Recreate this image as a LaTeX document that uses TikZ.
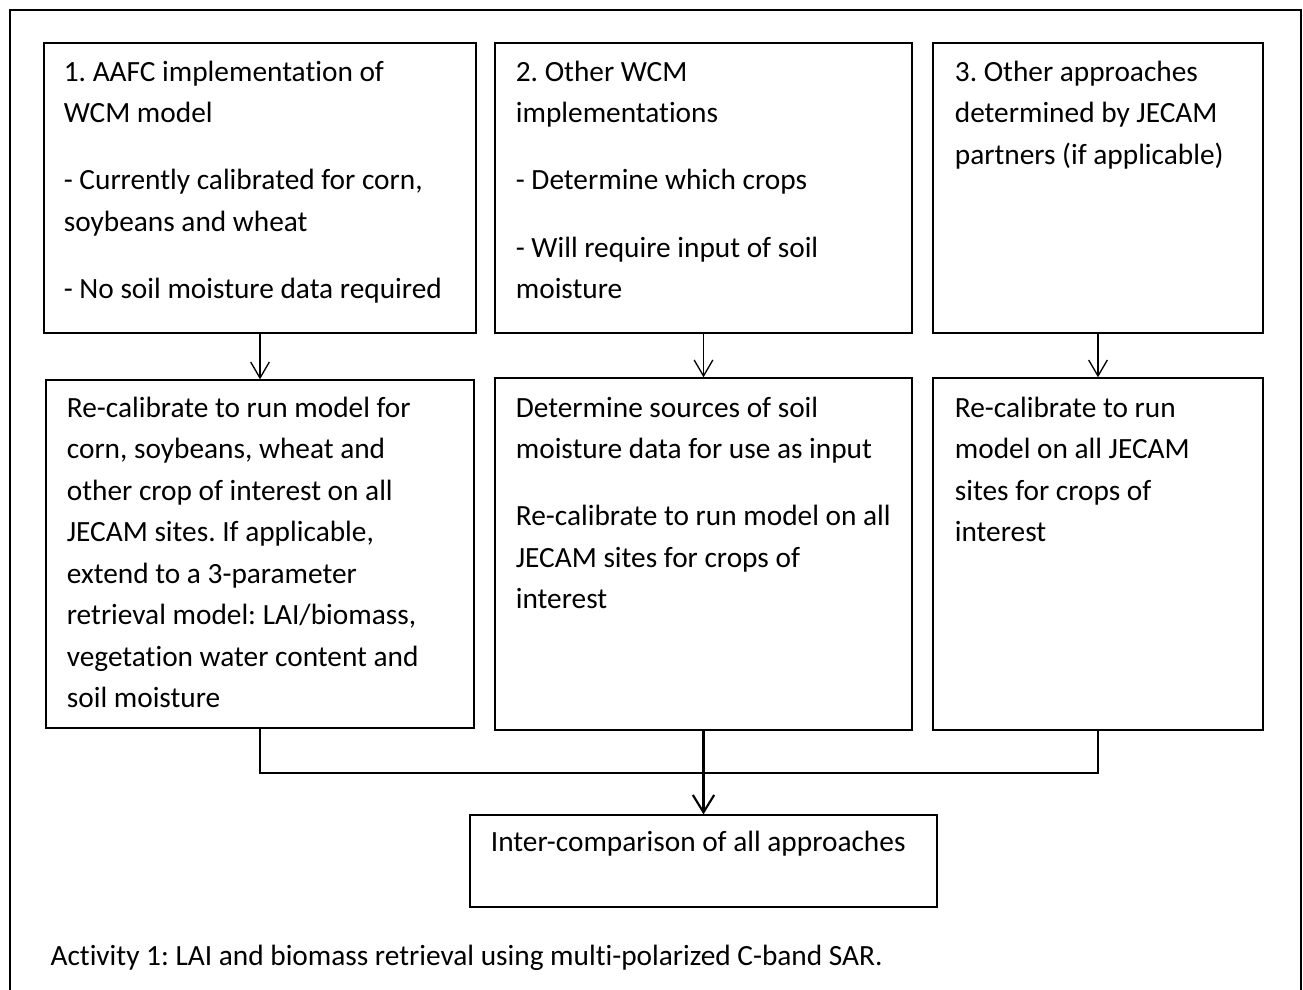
\documentclass[tikz,border=0pt]{standalone}
\usepackage{fontspec}
\setmainfont{Carlito}[Ligatures=NoCommon]
\usetikzlibrary{arrows.meta,positioning,fit,calc}
\newcommand{\boxlines}[1]{\parbox[t]{12cm}{#1}}
\frenchspacing
\tikzset{
  stage/.style={draw,line width=0.5pt,inner sep=0pt},
  stagetext/.style={anchor=base west,inner sep=0pt,font=\fontsize{11pt}{15.56pt}\selectfont},
  frame/.style={line width=1.1pt},
}

\begin{document}
\begin{tikzpicture}[x=0.375pt,y=-0.375pt,>={Straight Barb[length=6pt,width=7pt]}]
  \useasboundingbox (0,0) rectangle (1303,990);
  \draw[frame] (10,1000) |- (1301,10) -- (1301,1000);
  % top row
  \node[stage,fit={(44,43) (476,333)}] (a1) {};
  \node[stage,fit={(495,43) (912,333)}] (a2) {};
  \node[stage,fit={(933,43) (1263,333)}] (a3) {};
  % second row
  \node[stage,fit={(46,380) (474,728)}] (b1) {};
  \node[stage,fit={(495,378) (912,730)}] (b2) {};
  \node[stage,fit={(933,378) (1263,730)}] (b3) {};
  \node[stage,fit={(470,815) (937,907)}] (all) {};

  \node[stagetext] (a1t) at ($(a1.north west)+(20,39)$) {\boxlines{1. AAFC implementation of\\WCM model\\[9.6pt]- Currently calibrated for corn,\\soybeans and wheat\\[9.6pt]- No soil moisture data required}};
  \node[stagetext] (a2t) at ($(a2.north west)+(21,39)$) {\boxlines{2. Other WCM\\implementations\\[9.6pt]- Determine which crops\\[9.6pt]- Will require input of soil\\moisture}};
  \node[stagetext] (a3t) at ($(a3.north west)+(22,39)$) {\boxlines{3. Other approaches\\determined by JECAM\\partners (if applicable)}};
  \node[stagetext] (b1t) at ($(b1.north west)+(21,38)$) {\boxlines{Re-calibrate to run model for\\corn, soybeans, wheat and\\other crop of interest on all\\JECAM sites. If applicable,\\extend to a 3-parameter\\retrieval model: LAI/biomass,\\vegetation water content and\\soil moisture}};
  \node[stagetext] (b2t) at ($(b2.north west)+(21,40)$) {\boxlines{Determine sources of soil\\moisture data for use as input\\[9.6pt]Re-calibrate to run model on all\\JECAM sites for crops of\\interest}};
  \node[stagetext] (b3t) at ($(b3.north west)+(22,40)$) {\boxlines{Re-calibrate to run\\model on all JECAM\\sites for crops of\\interest}};
  \node[stagetext] (allt) at ($(all.north west)+(21,37)$) {Inter-comparison of all approaches};
  \node[stagetext] (caption) at (50,965) {Activity 1: LAI and biomass retrieval using multi-polarized C-band SAR.};

  \draw[->,line width=0.5pt] (a1.south) -- (b1.north);
  \draw[->,line width=0.5pt] (a2.south) -- (b2.north);
  \draw[->,line width=0.5pt] (a3.south) -- (b3.north);
  \coordinate (merge) at ($(b2.south)+(0,42)$);
  \draw[line width=0.75pt] (b1.south) |- (merge) -| (b3.south);
  \draw[->,line width=0.8pt,>={Straight Barb[length=6.5pt,width=8pt]}] (b2.south) -- (all.north);
\end{tikzpicture}
\end{document}
